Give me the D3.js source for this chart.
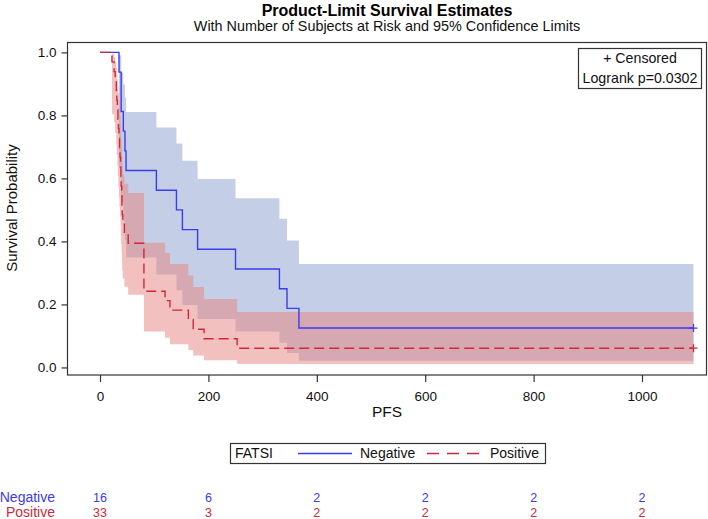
<!DOCTYPE html>
<html><head><meta charset="utf-8">
<script src="https://cdn.jsdelivr.net/npm/d3@7"></script>
<style>
html,body{margin:0;padding:0;background:#fff;}
svg{display:block;font-family:"Liberation Sans",Arial,sans-serif;}
</style></head>
<body>
<svg id="c" width="708" height="519"></svg>
<script>
// ---- data ----
const negTime = [0, 35, 39, 43, 46, 48, 104, 141, 152, 180, 250, 331, 345, 367, 1095];
const negSurv = [1, 0.9375, 0.8125, 0.75, 0.6875, 0.625, 0.5625, 0.5, 0.4375, 0.375, 0.3125, 0.25, 0.1875, 0.125, 0.125];
const negLower = [1, 0.632, 0.525, 0.463, 0.405, 0.349, 0.295, 0.245, 0.198, 0.154, 0.114, 0.078, 0.046, 0.021, 0.021];
const negUpper = [1, 0.991, 0.935, 0.898, 0.856, 0.811, 0.762, 0.711, 0.656, 0.598, 0.537, 0.472, 0.403, 0.328, 0.328];

const posTime = [0, 22, 26, 28, 30, 31, 32, 33, 34, 35, 36, 37, 38, 38.5, 39, 40, 40.5, 41, 42, 45, 52, 81, 120, 129, 163, 172, 192, 253, 1095];
const posSurv = [1, 0.970, 0.939, 0.909, 0.879, 0.848, 0.818, 0.788, 0.758, 0.727, 0.697, 0.667, 0.636, 0.606, 0.576, 0.545, 0.515, 0.485, 0.455, 0.424, 0.394, 0.242, 0.212, 0.182, 0.152, 0.121, 0.091, 0.061, 0.061];
const posLower = [1, 0.804, 0.779, 0.744, 0.709, 0.674, 0.639, 0.606, 0.573, 0.541, 0.510, 0.479, 0.449, 0.420, 0.391, 0.363, 0.335, 0.308, 0.282, 0.256, 0.231, 0.114, 0.094, 0.074, 0.055, 0.038, 0.023, 0.011, 0.011];
const posUpper = [1, 0.996, 0.985, 0.970, 0.953, 0.934, 0.914, 0.893, 0.871, 0.848, 0.824, 0.800, 0.775, 0.749, 0.723, 0.696, 0.669, 0.641, 0.612, 0.583, 0.554, 0.396, 0.363, 0.328, 0.292, 0.255, 0.217, 0.176, 0.176];

const censorTime = [1095];
const xTicks = [0, 200, 400, 600, 800, 1000];
const yTicks = [0, 0.2, 0.4, 0.6, 0.8, 1.0];
const groups = ["Negative", "Positive"];
const atRiskNeg = [16, 6, 2, 2, 2, 2];
const atRiskPos = [33, 3, 2, 2, 2, 2];

const title = "Product-Limit Survival Estimates";
const subtitle = "With Number of Subjects at Risk and 95% Confidence Limits";
const insetLines = ["+ Censored", "Logrank p=0.0302"];

// ---- styling ----
const blue = "#3b3bf0", red = "#d0283a";
const blueBand = "#899fcf", redBand = "#e5817d";

const svg = d3.select("#c");
const x = d3.scaleLinear().domain([-60, 1119]).range([67.5, 706.5]);
const y = d3.scaleLinear().domain([-0.024, 1.033]).range([375, 42]);

function rows(t, s, lo, hi) { return t.map((d, i) => ({t: d, s: s[i], lo: lo[i], hi: hi[i]})); }
const neg = rows(negTime, negSurv, negLower, negUpper);
const pos = rows(posTime, posSurv, posLower, posUpper);

const area = d3.area().curve(d3.curveStepAfter).x(d => x(d.t)).y0(d => y(d.lo)).y1(d => y(d.hi));
const line = d3.line().curve(d3.curveStepAfter).x(d => x(d.t)).y(d => y(d.s));

// bands
svg.append("path").datum(neg).attr("d", area).attr("fill", blueBand).attr("fill-opacity", 0.5);
svg.append("path").datum(pos).attr("d", area).attr("fill", redBand).attr("fill-opacity", 0.5);

// curves
svg.append("path").datum(neg).attr("d", line).attr("fill", "none").attr("stroke", blue).attr("stroke-width", 1.4);
svg.append("path").datum(pos).attr("d", line).attr("fill", "none").attr("stroke", red).attr("stroke-width", 1.4).attr("stroke-dasharray", "10,5");

// censor marks
function plus(g, cx, cy, col) {
  g.append("path").attr("d", `M${cx-4},${cy}H${cx+4}M${cx},${cy-4}V${cy+4}`).attr("stroke", col).attr("stroke-width", 1.3);
}
censorTime.forEach(t => {
  plus(svg, x(t), y(negSurv[negSurv.length-1]), blue);
  plus(svg, x(t), y(posSurv[posSurv.length-1]), red);
});

// frame
svg.append("rect").attr("x", 67.5).attr("y", 42.5).attr("width", 639).attr("height", 332.5)
  .attr("fill", "none").attr("stroke", "#333").attr("stroke-width", 1.2);

// axes
const xa = svg.append("g").attr("transform", "translate(0,375)")
  .call(d3.axisBottom(x).tickValues(xTicks).tickSize(7).tickPadding(9).tickFormat(d3.format("d")));
const ya = svg.append("g").attr("transform", "translate(67.5,0)")
  .call(d3.axisLeft(y).tickValues(yTicks).tickSize(6).tickPadding(5).tickFormat(d3.format(".1f")));
[xa, ya].forEach(a => {
  a.select(".domain").remove();
  a.selectAll("line").attr("stroke", "#333").attr("stroke-width", 1.2);
  a.selectAll("text").attr("font-family", "Liberation Sans, Arial, sans-serif").attr("font-size", 13.5).attr("fill", "#111");
});

// axis labels
svg.append("text").attr("x", 387).attr("y", 417).attr("text-anchor", "middle").attr("font-size", 15.5).attr("fill", "#111").text("PFS");
svg.append("text").attr("transform", "translate(17,208) rotate(-90)").attr("text-anchor", "middle").attr("font-size", 15).attr("fill", "#111").text("Survival Probability");

// titles
svg.append("text").attr("x", 387).attr("y", 16).attr("text-anchor", "middle").attr("font-size", 16).attr("font-weight", "bold").attr("fill", "#000").text(title);
svg.append("text").attr("x", 387).attr("y", 30.5).attr("text-anchor", "middle").attr("font-size", 14.4).attr("fill", "#111").text(subtitle);

// inset box
svg.append("rect").attr("x", 578.5).attr("y", 48.5).attr("width", 123).attr("height", 40).attr("fill", "#fff").attr("stroke", "#333").attr("stroke-width", 1.2);
insetLines.forEach((s, i) => svg.append("text").attr("x", 640).attr("y", 63 + i * 19.5).attr("text-anchor", "middle").attr("font-size", 14.2).attr("fill", "#111").text(s));

// bottom legend
const lg = svg.append("g");
lg.append("rect").attr("x", 230.5).attr("y", 443.5).attr("width", 315).attr("height", 20).attr("fill", "#fff").attr("stroke", "#333").attr("stroke-width", 1.2);
lg.append("text").attr("x", 235).attr("y", 458).attr("font-size", 14).attr("fill", "#111").text("FATSI");
lg.append("line").attr("x1", 298).attr("x2", 352).attr("y1", 453.5).attr("y2", 453.5).attr("stroke", blue).attr("stroke-width", 1.4);
lg.append("text").attr("x", 360).attr("y", 458).attr("font-size", 14).attr("fill", "#111").text(groups[0]);
lg.append("line").attr("x1", 427).attr("x2", 480).attr("y1", 453.5).attr("y2", 453.5).attr("stroke", red).attr("stroke-width", 1.4).attr("stroke-dasharray", "12,8");
lg.append("text").attr("x", 490).attr("y", 458).attr("font-size", 14).attr("fill", "#111").text(groups[1]);

// at-risk table
const rk = svg.append("g");
[[groups[0], atRiskNeg, blue, 501.5], [groups[1], atRiskPos, red, 516.5]].forEach(([name, vals, col, yy]) => {
  rk.append("text").attr("x", 55).attr("y", yy).attr("text-anchor", "end").attr("font-size", 14).attr("fill", col).text(name);
  rk.selectAll(null).data(vals).enter().append("text")
    .attr("x", (d, i) => x(xTicks[i])).attr("y", yy).attr("text-anchor", "middle").attr("font-size", 12.5).attr("fill", col).text(d => d);
});
</script>
</body></html>
